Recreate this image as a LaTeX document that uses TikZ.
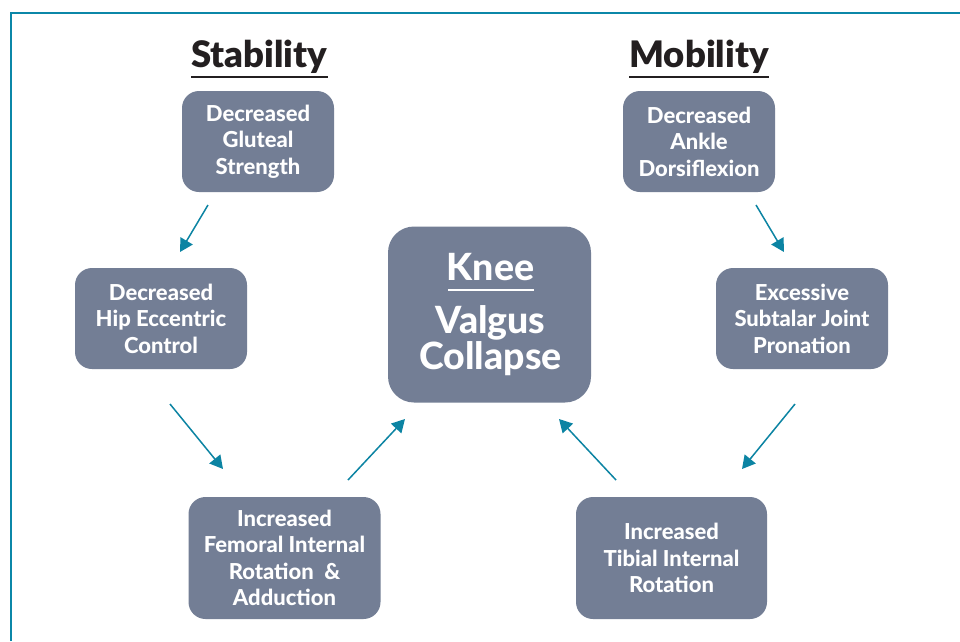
\documentclass[tikz,border=0pt]{standalone}
\usepackage{fontspec}
\setmainfont{Lato}[BoldFont={Lato Bold}]
\newfontfamily\headfont{Lato Black}
\newfontfamily\boxfont{Lato Heavy}
\usetikzlibrary{arrows.meta}
\definecolor{frameteal}{HTML}{0B87A8}
\definecolor{arrowteal}{HTML}{0C84A3}
\definecolor{boxslate}{HTML}{737E95}
\definecolor{titledark}{HTML}{231F20}
\tikzset{
  x=1pt, y=-1pt,
  box/.style={draw=none, fill=boxslate, rounded corners=17pt, text=white,
    align=center, inner sep=0pt,
    font=\fontsize{22}{26.5}\selectfont\boxfont},
  bigbox/.style={box, rounded corners=26pt},
  title/.style={text=titledark, anchor=base, inner sep=0pt,
    font=\fontsize{36.5}{38}\selectfont\headfont},
  kneetext/.style={text=white, anchor=base, inner sep=0pt,
    font=\fontsize{37.5}{40}\selectfont\boxfont},
  titleline/.style={draw=titledark, line width=2.2pt},
  link/.style={draw=arrowteal, line width=1.5pt,
    -{Triangle[length=13pt,width=14pt]}},
}
\begin{document}
\begin{tikzpicture}
\useasboundingbox (0,0) rectangle (960,641);
\fill[white] (0,0) rectangle (960,641);
% outer frame, open to the right and bottom
\draw[frameteal, line width=2.6pt] (11,641) -- (11,13) -- (960,13);

% column headings
\node[title] (stab) at (259,67) {Stability};
\draw[titleline] (191,77) -- (328,77);
\node[title] (mob) at (699,67) {Mobility};
\draw[titleline] (629,77) -- (769,77);

% stability chain
\node[box, minimum width=152pt, minimum height=101pt] (glut) at (258,141.5)
  {Decreased\\Gluteal\\Strength};
\node[box, minimum width=172pt, minimum height=101pt] (hip) at (161,318.5)
  {Decreased\\Hip Eccentric\\Control};
\node[box, minimum width=192pt, minimum height=122pt] (fem) at (284.5,558)
  {Increased\\Femoral Internal\\Rotation\ \ \&\\Adduction};

% mobility chain
\node[box, minimum width=152pt, minimum height=101pt] (ankle) at (699,141.5)
  {Decreased\\Ankle\\Dorsiflexion};
\node[box, minimum width=172pt, minimum height=101pt] (subt) at (802,318.5)
  {Excessive\\Subtalar Joint\\Pronation};
\node[box, minimum width=191pt, minimum height=122pt] (tib) at (671.5,558)
  {Increased\\Tibial Internal\\Rotation};

% central outcome
\node[bigbox, minimum width=203pt, minimum height=176pt] (knee) at (489.5,314.5) {};
\node[kneetext] (kneet) at (490.5,280) {Knee};
\draw[white, line width=1.6pt] (448,290) -- (534,290);
\node[kneetext] (valgus) at (490.5,333) {Valgus};
\node[kneetext] (collapse) at (490.5,369) {Collapse};

% arrow ends
\coordinate (a1s) at (208,205); \coordinate (a1e) at (180,252);
\coordinate (a2s) at (170,404); \coordinate (a2e) at (223,469);
\coordinate (a3s) at (348,480); \coordinate (a3e) at (405,419);
\coordinate (a4s) at (756,205); \coordinate (a4e) at (784,252);
\coordinate (a5s) at (795,404); \coordinate (a5e) at (742,469);
\coordinate (a6s) at (616,480); \coordinate (a6e) at (559,419);

\draw[link] (a1s) -- (a1e);
\draw[link] (a2s) -- (a2e);
\draw[link] (a3s) -- (a3e);
\draw[link] (a4s) -- (a4e);
\draw[link] (a5s) -- (a5e);
\draw[link] (a6s) -- (a6e);
\end{tikzpicture}
\end{document}
